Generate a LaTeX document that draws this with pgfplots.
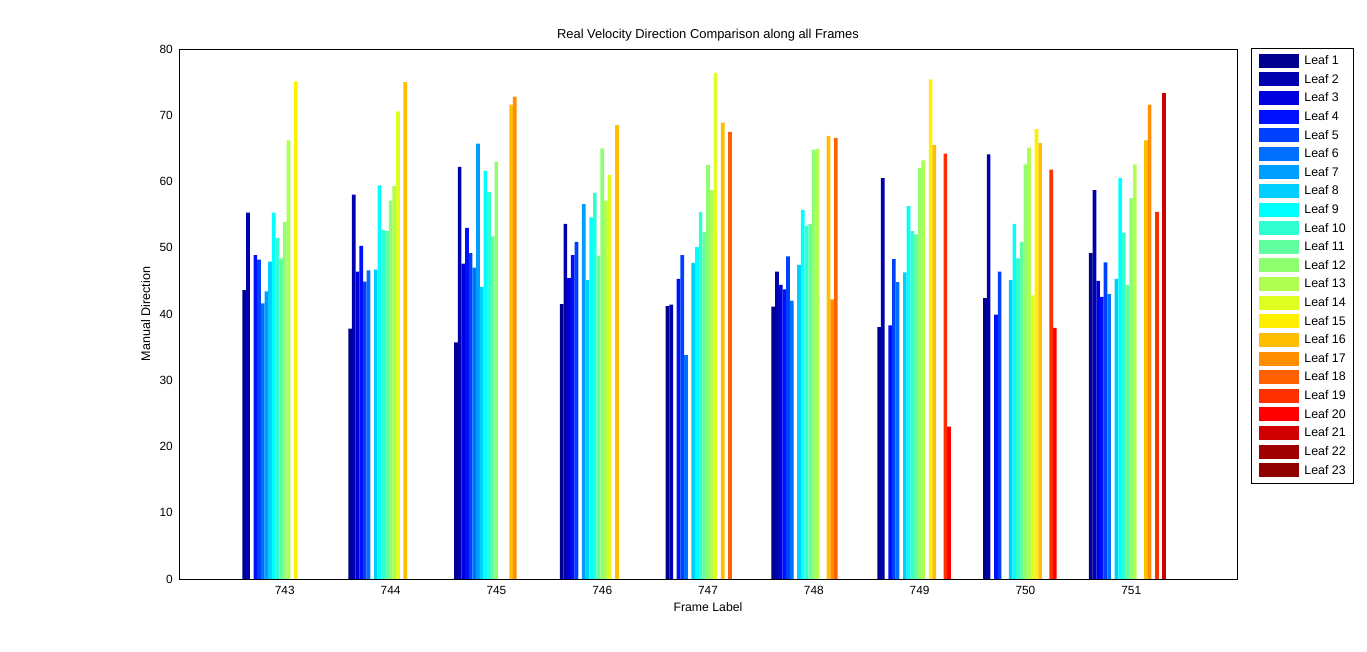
\documentclass[border=0pt]{standalone}
\usepackage{pgfplots}
\usepackage{pgfplotstable}
\pgfplotsset{compat=1.18}
\usepackage{fontspec}
\setmainfont{Liberation Sans}

\definecolor{c1}{rgb}{0,0,0.5625}
\definecolor{c2}{rgb}{0,0,0.6875}
\definecolor{c3}{rgb}{0,0,0.875}
\definecolor{c4}{rgb}{0,0.0625,1}
\definecolor{c5}{rgb}{0,0.25,1}
\definecolor{c6}{rgb}{0,0.4375,1}
\definecolor{c7}{rgb}{0,0.625,1}
\definecolor{c8}{rgb}{0,0.8125,1}
\definecolor{c9}{rgb}{0,1,1}
\definecolor{c10}{rgb}{0.1875,1,0.8125}
\definecolor{c11}{rgb}{0.375,1,0.625}
\definecolor{c12}{rgb}{0.5625,1,0.4375}
\definecolor{c13}{rgb}{0.6875,1,0.3125}
\definecolor{c14}{rgb}{0.875,1,0.125}
\definecolor{c15}{rgb}{1,0.9375,0}
\definecolor{c16}{rgb}{1,0.75,0}
\definecolor{c17}{rgb}{1,0.5625,0}
\definecolor{c18}{rgb}{1,0.375,0}
\definecolor{c19}{rgb}{1,0.1875,0}
\definecolor{c20}{rgb}{1,0,0}
\definecolor{c21}{rgb}{0.8125,0,0}
\definecolor{c22}{rgb}{0.625,0,0}
\definecolor{c23}{rgb}{0.5625,0,0}

\pgfplotstableread{
x   L1   L2   L3   L4   L5   L6   L7   L8   L9   L10  L11  L12  L13  L14  L15  L16  L17  L18  L19  L20  L21  L22  L23
743 43.6 55.3 0    48.9 48.2 41.6 43.4 47.9 55.3 51.5 48.4 53.9 66.2 0    75.1 0    0    0    0    0    0    0    0
744 37.8 58.0 46.4 50.3 44.9 46.6 0    46.7 59.4 52.7 52.5 57.1 59.3 70.6 0    75.0 0    0    0    0    0    0    0
745 35.7 62.2 47.6 53.0 49.2 47.0 65.7 44.1 61.6 58.4 51.7 63.0 0    0    0    71.6 72.8 0    0    0    0    0    0
746 41.5 53.6 45.4 48.9 50.9 0    56.6 45.1 54.6 58.3 48.8 65.0 57.1 61.0 0    68.5 0    0    0    0    0    0    0
747 41.2 41.4 0    45.3 48.9 33.8 0    47.7 50.1 55.4 52.4 62.5 58.7 76.4 0    68.9 0    67.5 0    0    0    0    0
748 41.1 46.4 44.4 43.7 48.7 42.0 0    47.4 55.7 53.3 53.6 64.8 64.9 0    0    66.9 42.2 66.6 0    0    0    0    0
749 38.0 60.5 0    38.3 48.3 44.8 0    46.3 56.3 52.5 52.0 62.0 63.2 0    75.4 65.5 0    0    64.2 23.0 0    0    0
750 42.4 64.1 0    39.9 46.4 0    0    45.1 53.6 48.4 50.9 62.6 65.1 42.8 67.9 65.8 0    0    61.8 37.9 0    0    0
751 49.2 58.7 45.0 42.6 47.8 43.0 0    45.3 60.5 52.3 44.4 57.5 62.6 0    0    66.2 71.6 0    55.4 0    73.3 0    0
}\datatable

\begin{document}
\begin{tikzpicture}
\useasboundingbox (-134.25pt,-54.75pt) rectangle (891pt,434.25pt);
\begin{axis}[
  at={(0,0)}, anchor=south west,
  scale only axis, width=793.5pt, height=397.5pt,
  xmin=742, xmax=752, ymin=0, ymax=80,
  xtick={743,744,745,746,747,748,749,750,751},
  ytick={0,10,20,30,40,50,60,70,80},
  major tick length=0pt,
  axis line style={line width=0.6pt},
  ybar, bar width=0.0348,
  unbounded coords=discard,
  y filter/.expression={y==0 ? nan : y},
  /pgf/number format/assume math mode=true,
  /pgf/number format/set thousands separator={},
  every tick label/.append style={font=\fontsize{8.9}{10}\selectfont},
  xticklabel style={anchor=base, inner sep=0pt, yshift=-12pt},
  yticklabel style={anchor=east, inner sep=0pt, xshift=-4.5pt},
  title={Real Velocity Direction Comparison along all Frames},
  title style={at={(0.5,1)}, anchor=base, inner sep=0pt, yshift=1.6pt, font=\fontsize{9.7}{11}\selectfont},
  xlabel={Frame Label},
  xlabel style={at={(0.5,0)}, anchor=base, inner sep=0pt, yshift=-24.75pt, font=\fontsize{9.2}{10}\selectfont},
  ylabel={Manual Direction},
  every axis y label/.style={at={(-0.0274,0.5)}, rotate=90, anchor=base, inner sep=0pt, font=\fontsize{9.4}{10}\selectfont},
  legend image code/.code={\fill[#1, draw=none] (0pt,-5.0pt) rectangle (30pt,5.5pt); \path (0pt,0pt) (33.75pt,0pt);},
  legend cell align=left,
  legend style={at={(1.0132,1.0019)}, anchor=north west, draw=black, line width=0.6pt,
    inner xsep=6pt, inner ysep=3.2pt, row sep=1.34pt,
    font=\fontsize{9.3}{10}\selectfont,
    nodes={inner xsep=0pt, inner ysep=0pt, text height=8.94pt, text depth=3.68pt}},
]
\addplot[fill=c1, draw=none, bar shift=-0.38261] table[x=x,y=L1]{\datatable}; \addlegendentry{Leaf 1}
\addplot[fill=c2, draw=none, bar shift=-0.34783] table[x=x,y=L2]{\datatable}; \addlegendentry{Leaf 2}
\addplot[fill=c3, draw=none, bar shift=-0.31304] table[x=x,y=L3]{\datatable}; \addlegendentry{Leaf 3}
\addplot[fill=c4, draw=none, bar shift=-0.27826] table[x=x,y=L4]{\datatable}; \addlegendentry{Leaf 4}
\addplot[fill=c5, draw=none, bar shift=-0.24348] table[x=x,y=L5]{\datatable}; \addlegendentry{Leaf 5}
\addplot[fill=c6, draw=none, bar shift=-0.20870] table[x=x,y=L6]{\datatable}; \addlegendentry{Leaf 6}
\addplot[fill=c7, draw=none, bar shift=-0.17391] table[x=x,y=L7]{\datatable}; \addlegendentry{Leaf 7}
\addplot[fill=c8, draw=none, bar shift=-0.13913] table[x=x,y=L8]{\datatable}; \addlegendentry{Leaf 8}
\addplot[fill=c9, draw=none, bar shift=-0.10435] table[x=x,y=L9]{\datatable}; \addlegendentry{Leaf 9}
\addplot[fill=c10, draw=none, bar shift=-0.06957] table[x=x,y=L10]{\datatable}; \addlegendentry{Leaf 10}
\addplot[fill=c11, draw=none, bar shift=-0.03478] table[x=x,y=L11]{\datatable}; \addlegendentry{Leaf 11}
\addplot[fill=c12, draw=none, bar shift=0] table[x=x,y=L12]{\datatable}; \addlegendentry{Leaf 12}
\addplot[fill=c13, draw=none, bar shift=0.03478] table[x=x,y=L13]{\datatable}; \addlegendentry{Leaf 13}
\addplot[fill=c14, draw=none, bar shift=0.06957] table[x=x,y=L14]{\datatable}; \addlegendentry{Leaf 14}
\addplot[fill=c15, draw=none, bar shift=0.10435] table[x=x,y=L15]{\datatable}; \addlegendentry{Leaf 15}
\addplot[fill=c16, draw=none, bar shift=0.13913] table[x=x,y=L16]{\datatable}; \addlegendentry{Leaf 16}
\addplot[fill=c17, draw=none, bar shift=0.17391] table[x=x,y=L17]{\datatable}; \addlegendentry{Leaf 17}
\addplot[fill=c18, draw=none, bar shift=0.20870] table[x=x,y=L18]{\datatable}; \addlegendentry{Leaf 18}
\addplot[fill=c19, draw=none, bar shift=0.24348] table[x=x,y=L19]{\datatable}; \addlegendentry{Leaf 19}
\addplot[fill=c20, draw=none, bar shift=0.27826] table[x=x,y=L20]{\datatable}; \addlegendentry{Leaf 20}
\addplot[fill=c21, draw=none, bar shift=0.31304] table[x=x,y=L21]{\datatable}; \addlegendentry{Leaf 21}
% Leaf 22 and Leaf 23 have no nonzero values in any frame
\addlegendimage{fill=c22, draw=none}
\addlegendentry{Leaf 22}
\addlegendimage{fill=c23, draw=none}
\addlegendentry{Leaf 23}
\end{axis}
\end{tikzpicture}
\end{document}
